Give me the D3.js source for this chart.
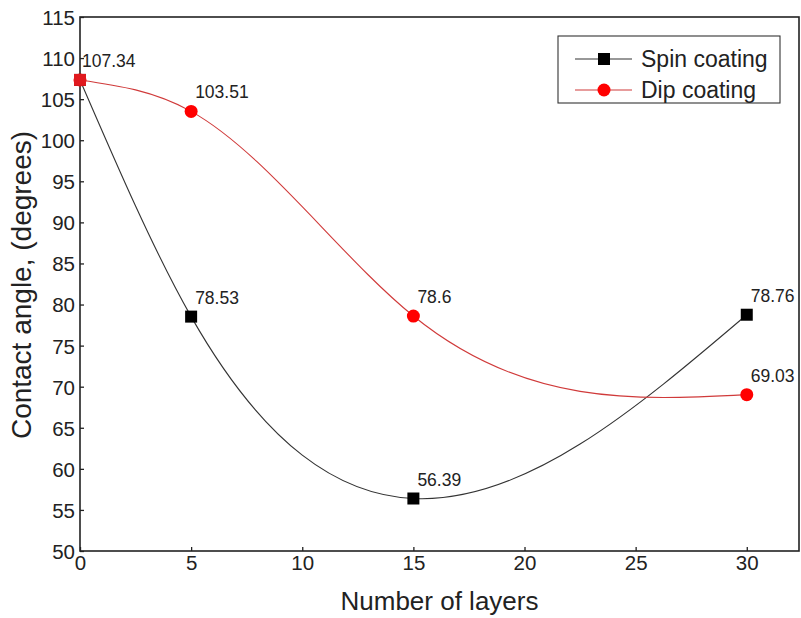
<!DOCTYPE html>
<html>
<head>
<meta charset="utf-8">
<script src="https://cdn.jsdelivr.net/npm/d3@7"></script>
<style>
  body { margin: 0; background: #fff; }
  text { font-family: "Liberation Sans", Arial, sans-serif; fill: #222; }
</style>
</head>
<body>
<script>
// Data
const layers = [0, 5, 15, 30];
const spinValues = [107.34, 78.53, 56.39, 78.76];
const dipValues = [107.34, 103.51, 78.6, 69.03];
const xTicks = [0, 5, 10, 15, 20, 25, 30];
const yTicks = [50, 55, 60, 65, 70, 75, 80, 85, 90, 95, 100, 105, 110, 115];

const width = 801, height = 618;
const margin = { top: 17, right: 2, bottom: 67, left: 80 };

const svg = d3.select("body").append("svg")
    .attr("width", width)
    .attr("height", height);

const xScale = d3.scaleLinear()
    .domain([0, 32.35])
    .range([margin.left, width - margin.right]);

const yScale = d3.scaleLinear()
    .domain([50, 115])
    .range([height - margin.bottom, margin.top]);

// Natural cubic spline y(x) (like Origin's "Spline" connect), emitted as bezier segments
function curveNaturalX(context) {
    let xs, ys;
    return {
        areaStart() {}, areaEnd() {},
        lineStart() { xs = []; ys = []; },
        point(x, y) { xs.push(+x); ys.push(+y); },
        lineEnd() {
            const n = xs.length;
            if (!n) return;
            context.moveTo(xs[0], ys[0]);
            if (n === 2) { context.lineTo(xs[1], ys[1]); return; }
            const h = [], d = [];
            for (let i = 0; i < n - 1; i++) {
                h.push(xs[i + 1] - xs[i]);
                d.push((ys[i + 1] - ys[i]) / h[i]);
            }
            // solve tridiagonal system for second derivatives, M0 = Mn-1 = 0
            const M = new Array(n).fill(0);
            const a = [], b = [], c = [], r = [];
            for (let i = 1; i < n - 1; i++) {
                a.push(h[i - 1]); b.push(2 * (h[i - 1] + h[i])); c.push(h[i]);
                r.push(6 * (d[i] - d[i - 1]));
            }
            const m = b.length;
            for (let i = 1; i < m; i++) {
                const w = a[i] / b[i - 1];
                b[i] -= w * c[i - 1];
                r[i] -= w * r[i - 1];
            }
            const sol = new Array(m);
            sol[m - 1] = r[m - 1] / b[m - 1];
            for (let i = m - 2; i >= 0; i--) sol[i] = (r[i] - c[i] * sol[i + 1]) / b[i];
            for (let i = 0; i < m; i++) M[i + 1] = sol[i];
            for (let i = 0; i < n - 1; i++) {
                const s0 = d[i] - h[i] * (2 * M[i] + M[i + 1]) / 6;
                const s1 = d[i] + h[i] * (M[i] + 2 * M[i + 1]) / 6;
                context.bezierCurveTo(
                    xs[i] + h[i] / 3, ys[i] + s0 * h[i] / 3,
                    xs[i + 1] - h[i] / 3, ys[i + 1] - s1 * h[i] / 3,
                    xs[i + 1], ys[i + 1]);
            }
        }
    };
}

// Axes (ticks pointing inward)
const xAxis = svg.append("g")
    .attr("transform", `translate(0,${height - margin.bottom})`)
    .call(d3.axisBottom(xScale).tickValues(xTicks).tickSizeInner(-4).tickSizeOuter(0).tickPadding(7));

const yAxis = svg.append("g")
    .attr("transform", `translate(${margin.left},0)`)
    .call(d3.axisLeft(yScale).tickValues(yTicks).tickSizeInner(-4).tickSizeOuter(0).tickPadding(5));

[xAxis, yAxis].forEach(g => {
    g.selectAll("text").style("font-size", "20.5px").attr("fill", "#222").style("font-family", "Liberation Sans, Arial, sans-serif");
    g.selectAll("line").attr("stroke", "#222").attr("stroke-width", 1.3);
    g.select(".domain").remove();
});
xAxis.selectAll("text").attr("dy", "0.6em");
yAxis.selectAll("text").attr("dy", "0.36em");

// Frame
svg.append("rect")
    .attr("x", margin.left)
    .attr("y", margin.top)
    .attr("width", width - margin.right - margin.left)
    .attr("height", height - margin.bottom - margin.top)
    .attr("fill", "none")
    .attr("stroke", "#222")
    .attr("stroke-width", 1.6);

// Axis labels
svg.append("text")
    .attr("x", (margin.left + width - margin.right) / 2)
    .attr("y", 610)
    .attr("text-anchor", "middle")
    .style("font-size", "26px")
    .text("Number of layers");

svg.append("text")
    .attr("transform", "rotate(-90)")
    .attr("x", -285)
    .attr("y", 31)
    .attr("text-anchor", "middle")
    .style("font-size", "28px")
    .text("Contact angle, (degrees)");

// Curves
const line = d3.line()
    .x(d => xScale(d[0]))
    .y(d => yScale(d[1]))
    .curve(curveNaturalX);

const series = [
    { name: "Spin coating", values: spinValues, color: "#000", lineColor: "#333", shape: "square" },
    { name: "Dip coating", values: dipValues, color: "#ff0000", lineColor: "#d03a3a", shape: "circle" }
];

series.forEach(s => {
    const pts = layers.map((x, i) => [x, s.values[i]]);
    svg.append("path")
        .datum(pts)
        .attr("d", line)
        .attr("fill", "none")
        .attr("stroke", s.lineColor)
        .attr("stroke-width", 1.1);
});

function drawMarker(g, shape, color, cx, cy) {
    if (shape === "square") {
        g.append("rect")
            .attr("x", cx - 6).attr("y", cy - 6)
            .attr("width", 12).attr("height", 12)
            .attr("fill", color);
    } else {
        g.append("circle")
            .attr("cx", cx).attr("cy", cy).attr("r", 6.5)
            .attr("fill", color);
    }
}

// Markers: dip first so the spin square sits on top at x=0
[series[1], series[0]].forEach(s => {
    layers.forEach((x, i) => {
        drawMarker(svg, s.shape, s.color, xScale(x), yScale(s.values[i]));
    });
});
// red square at the shared starting point
svg.append("rect")
    .attr("x", xScale(layers[0]) - 6).attr("y", yScale(dipValues[0]) - 6)
    .attr("width", 12).attr("height", 12)
    .attr("fill", "#e0191e");

// Value labels
series.forEach((s, si) => {
    layers.forEach((x, i) => {
        if (si === 0 && i === 0) return;
        svg.append("text")
            .attr("x", xScale(x) + (i === 0 ? 2 : 4))
            .attr("y", yScale(s.values[i]) - 13)
            .style("font-size", "17.5px")
            .text(s.values[i]);
    });
});

// Legend
const legend = svg.append("g");
legend.append("rect")
    .attr("x", 558).attr("y", 36)
    .attr("width", 222).attr("height", 67)
    .attr("fill", "#fff")
    .attr("stroke", "#333")
    .attr("stroke-width", 1.1);

series.forEach((s, i) => {
    const cy = 59 + i * 31;
    legend.append("line")
        .attr("x1", 575).attr("x2", 632)
        .attr("y1", cy).attr("y2", cy)
        .attr("stroke", s.lineColor)
        .attr("stroke-width", 1.1);
    drawMarker(legend, s.shape, s.color, 604, cy);
    legend.append("text")
        .attr("x", 641).attr("y", cy)
        .attr("dy", "0.35em")
        .style("font-size", "23px")
        .text(s.name);
});
</script>
</body>
</html>
